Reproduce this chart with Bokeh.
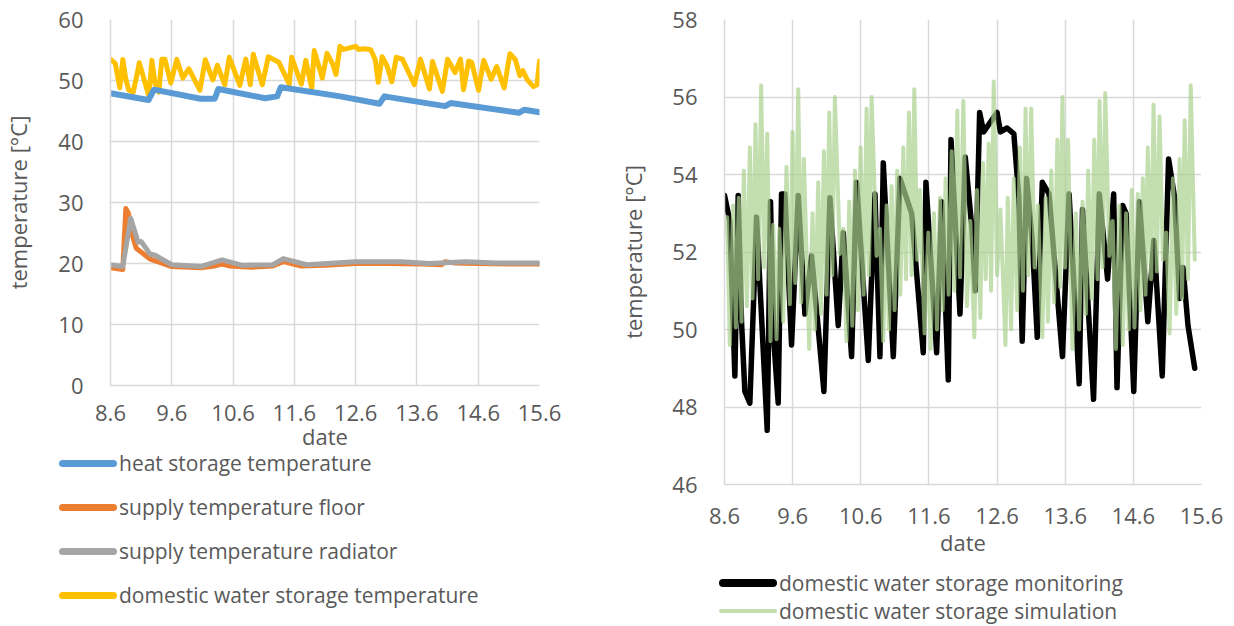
from bokeh.plotting import figure
from bokeh.layouts import row, column
from bokeh.models import Range1d, FixedTicker, Div
from bokeh.embed import file_html
from bokeh.resources import INLINE

# ---------------- data ----------------
tick_days = [0, 1, 2, 3, 4, 5, 6, 7]
date_labels = ["8.6", "9.6", "10.6", "11.6", "12.6", "13.6", "14.6", "15.6"]
left_y_ticks = [0, 10, 20, 30, 40, 50, 60]
right_y_ticks = [46, 48, 50, 52, 54, 56, 58]

heat_day = [0, 0.62, 0.71, 1.47, 1.70, 1.76, 2.52, 2.72, 2.78, 3.75, 4.39, 4.47,
            5.46, 5.55, 6.66, 6.75, 7.0]
heat_temp = [47.9, 46.8, 48.5, 47.0, 47.0, 48.6, 47.1, 47.4, 48.9, 47.4, 46.2, 47.4,
             45.8, 46.3, 44.7, 45.2, 44.8]

floor_day = [0, 0.2, 0.25, 0.29, 0.36, 0.42, 0.65, 1.0, 1.47, 1.70, 1.82, 1.95, 2.3,
             2.65, 2.82, 3.1, 3.5, 4.0, 4.5, 5.1, 5.4, 5.46, 5.6, 6.0, 6.5, 7.0]
floor_temp = [19.3, 19.0, 29.0, 28.3, 24.5, 22.5, 20.7, 19.5, 19.3, 19.6, 19.9, 19.6, 19.4,
              19.6, 20.3, 19.6, 19.7, 20.0, 20.0, 19.9, 19.8, 20.3, 20.1, 20.0, 19.9, 19.9]

rad_day = [0, 0.2, 0.33, 0.45, 0.5, 0.65, 0.72, 1.0, 1.47, 1.82, 2.15, 2.65, 2.82, 3.2,
           4.0, 4.75, 5.2, 5.8, 6.3, 7.0]
rad_temp = [19.8, 19.5, 27.4, 23.5, 23.6, 21.5, 21.4, 19.8, 19.5, 20.6, 19.7, 19.8, 20.8, 19.8,
            20.3, 20.3, 20.0, 20.3, 20.1, 20.1]

mon_day = [0.000, 0.078, 0.152, 0.201, 0.250, 0.299, 0.372, 0.445, 0.470, 0.627,
           0.675, 0.724, 0.788, 0.837, 0.886, 0.984, 1.082, 1.180, 1.278, 1.351,
           1.459, 1.547, 1.669, 1.743, 1.865, 1.938, 2.110, 2.208, 2.281, 2.330,
           2.379, 2.477, 2.575, 2.746, 2.917, 2.956, 3.113, 3.187, 3.284, 3.324,
           3.456, 3.533, 3.631, 3.680, 3.744, 3.803, 3.902, 4.000, 4.049, 4.147,
           4.246, 4.320, 4.369, 4.433, 4.516, 4.590, 4.664, 4.762, 4.959, 5.057,
           5.205, 5.254, 5.416, 5.500, 5.622, 5.711, 5.760, 5.844, 5.893, 6.006,
           6.089, 6.212, 6.301, 6.424, 6.517, 6.606, 6.679, 6.729, 6.802, 6.901]
mon_temp = [53.46, 52.8, 48.8, 53.46, 50.2, 48.4, 48.1, 51.6, 52.9, 47.4,
            53.3, 49.7, 48.1, 53.5, 53.5, 49.6, 53.46, 50.4, 51.9, 50.5,
            48.4, 53.4, 50.1, 52.5, 49.3, 53.8, 49.2, 53.5, 49.3, 54.3,
            52.6, 49.3, 53.9, 53.0, 49.4, 53.8, 49.4, 53.3, 48.7, 54.9,
            50.4, 54.45, 52.6, 51.0, 55.6, 55.1, 55.35, 55.6, 55.1, 55.2,
            55.05, 53.4, 49.7, 53.9, 52.3, 49.8, 53.8, 53.5, 49.3, 53.5,
            48.6, 53.1, 48.2, 53.5, 51.3, 53.5, 48.5, 53.2, 53.0, 48.4,
            53.3, 50.2, 52.3, 48.8, 54.4, 53.4, 50.8, 51.6, 50.1, 49.0]
# last readings shown only in the left panel
dhw_tail_day = [6.96, 7.0]
dhw_tail_temp = [49.3, 53.2]

sim_day = [0.000, 0.039, 0.078, 0.127, 0.166, 0.210, 0.250, 0.284, 0.328, 0.372,
           0.411, 0.455, 0.494, 0.538, 0.582, 0.627, 0.675, 0.715, 0.764, 0.803,
           0.861, 0.910, 0.959, 0.999, 1.038, 1.082, 1.126, 1.165, 1.243, 1.292,
           1.326, 1.375, 1.415, 1.459, 1.498, 1.537, 1.581, 1.620, 1.694, 1.743,
           1.791, 1.831, 1.875, 1.914, 1.958, 1.997, 2.041, 2.085, 2.119, 2.159,
           2.232, 2.281, 2.330, 2.379, 2.413, 2.452, 2.496, 2.535, 2.580, 2.624,
           2.663, 2.707, 2.746, 2.785, 2.829, 2.868, 2.937, 2.991, 3.025, 3.074,
           3.118, 3.162, 3.201, 3.245, 3.289, 3.334, 3.373, 3.416, 3.456, 3.505,
           3.558, 3.607, 3.666, 3.705, 3.754, 3.794, 3.833, 3.877, 3.912, 3.951,
           4.000, 4.049, 4.123, 4.157, 4.206, 4.246, 4.295, 4.334, 4.379, 4.418,
           4.457, 4.501, 4.551, 4.600, 4.664, 4.713, 4.747, 4.796, 4.836, 4.885,
           4.924, 4.959, 4.998, 5.042, 5.106, 5.155, 5.205, 5.254, 5.303, 5.337,
           5.386, 5.426, 5.475, 5.504, 5.549, 5.588, 5.647, 5.696, 5.745, 5.794,
           5.844, 5.893, 5.932, 5.976, 6.016, 6.065, 6.104, 6.139, 6.178, 6.212,
           6.262, 6.296, 6.345, 6.384, 6.434, 6.483, 6.532, 6.581, 6.630, 6.679,
           6.714, 6.753, 6.802, 6.842, 6.901]
sim_temp = [52.5, 52.9, 49.6, 53.2, 50.05, 53.4, 50.2, 54.1, 50.6, 54.7,
            50.8, 55.3, 51.3, 56.3, 51.6, 55.05, 49.7, 52.7, 49.75, 52.6,
            50.2, 54.2, 50.65, 55.1, 51.2, 56.2, 50.7, 54.4, 49.5, 53.0,
            50.0, 53.8, 50.4, 54.6, 50.9, 55.6, 51.4, 56.0, 51.95, 52.6,
            49.7, 53.3, 50.1, 54.1, 50.5, 54.7, 50.9, 55.7, 51.4, 56.0,
            51.9, 52.6, 49.7, 53.2, 50.0, 53.7, 50.5, 54.1, 50.9, 54.7,
            51.3, 55.6, 51.4, 56.2, 51.8, 53.6, 49.9, 52.5, 49.5, 53.0,
            50.0, 53.4, 50.5, 53.9, 50.9, 54.6, 51.0, 55.65, 51.35, 55.9,
            50.6, 52.8, 49.8, 53.6, 50.3, 54.3, 51.3, 54.8, 51.0, 56.4,
            51.4, 53.1, 49.6, 53.4, 50.0, 53.9, 50.5, 54.7, 51.0, 55.7,
            51.4, 55.7, 51.6, 53.2, 49.8, 53.4, 50.2, 54.1, 50.7, 54.9,
            51.1, 56.0, 51.6, 54.9, 49.5, 53.0, 50.0, 53.3, 50.4, 54.1,
            50.8, 54.9, 51.3, 55.9, 51.6, 56.1, 51.9, 52.8, 49.5, 53.2,
            49.6, 53.0, 50.0, 53.6, 50.05, 53.5, 50.5, 53.9, 50.9, 54.7,
            51.3, 55.8, 51.5, 55.5, 51.8, 52.5, 49.9, 53.9, 50.4, 54.4,
            50.8, 55.4, 51.3, 56.3, 51.8]

left_series = ["heat storage temperature", "supply temperature floor",
               "supply temperature radiator", "domestic water storage temperature"]
right_series = ["domestic water storage monitoring", "domestic water storage simulation"]

# ---------------- style ----------------
FONT = "Open Sans"
TXT = "#595959"
GRID = "#d9d9d9"
FS = "22px"
LEG_FS = "21px"

HEAT_C, FLOOR_C, RAD_C, DHW_C = "#5b9bd5", "#ed7d31", "#a5a5a5", "#ffc000"
MON_C, SIM_C = "#000000", "#a9d18e"
kw = dict(line_join="round", line_cap="round")


def style(p, yticks):
    p.outline_line_color = None
    p.background_fill_color = "white"
    p.border_fill_color = "white"
    for ax in (p.xaxis[0], p.yaxis[0]):
        ax.axis_line_color = GRID
        ax.axis_line_width = 1.5
        ax.major_tick_line_color = None
        ax.minor_tick_line_color = None
        ax.major_label_text_font = FONT
        ax.major_label_text_font_size = FS
        ax.major_label_text_color = TXT
        ax.axis_label_text_font = FONT
        ax.axis_label_text_font_size = FS
        ax.axis_label_text_color = TXT
        ax.axis_label_text_font_style = "normal"
    p.xaxis.ticker = FixedTicker(ticks=tick_days)
    p.xaxis.major_label_overrides = {d: l for d, l in zip(tick_days, date_labels)}
    p.yaxis.ticker = FixedTicker(ticks=yticks)
    p.xgrid.ticker = FixedTicker(ticks=tick_days)
    p.ygrid.ticker = FixedTicker(ticks=yticks)
    for g in (p.xgrid[0], p.ygrid[0]):
        g.grid_line_color = GRID
        g.grid_line_width = 1.5
    p.xaxis.axis_label = "date"
    p.yaxis.axis_label = "temperature [°C]"


def legend_div(width, height, entries, left, top0, step):
    rows_html = []
    for i, (label, color, thick, alpha) in enumerate(entries):
        rows_html.append(
            f'<div style="position:absolute;left:{left}px;top:{top0 + i * step}px;'
            f'height:28px;display:flex;align-items:center;white-space:nowrap;">'
            f'<span style="display:inline-block;width:58px;height:{thick}px;'
            f'border-radius:{thick / 2}px;background:{color};opacity:{alpha};'
            f'margin-right:2px;"></span><span>{label}</span></div>')
    html = (f'<div style="position:relative;width:{width}px;height:{height}px;'
            f'font-family:\'{FONT}\';font-size:{LEG_FS};color:{TXT};line-height:28px;">'
            + "".join(rows_html) + '</div>')
    return Div(text=html, width=width, height=height, margin=0,
               styles={"overflow": "visible"})


# ---------------- left panel ----------------
p1 = figure(width=600, height=453, frame_width=429, frame_height=366,
            min_border_left=110, min_border_right=61, min_border_top=19,
            min_border_bottom=68, x_range=Range1d(0, 7), y_range=Range1d(0, 60),
            output_backend="svg", toolbar_location=None)
style(p1, left_y_ticks)
p1.xaxis.major_label_standoff = 13
p1.xaxis.axis_label_standoff = -3
p1.yaxis.major_label_standoff = 21
p1.yaxis.axis_label_standoff = 22

p1.line(mon_day + dhw_tail_day, mon_temp + dhw_tail_temp, line_color=DHW_C, line_width=5, **kw)
p1.line(heat_day, heat_temp, line_color=HEAT_C, line_width=6, **kw)
p1.line(floor_day, floor_temp, line_color=FLOOR_C, line_width=5, **kw)
p1.line(rad_day, rad_temp, line_color=RAD_C, line_width=5, **kw)

leg1 = legend_div(600, 173, [
    (left_series[0], HEAT_C, 7, 1.0),
    (left_series[1], FLOOR_C, 7, 1.0),
    (left_series[2], RAD_C, 7, 1.0),
    (left_series[3], DHW_C, 7, 1.0),
], 59, -4, 44)

# ---------------- right panel ----------------
p2 = figure(width=634, height=560, frame_width=477, frame_height=465,
            min_border_left=124, min_border_right=33, min_border_top=19,
            min_border_bottom=76, x_range=Range1d(0, 7), y_range=Range1d(46, 58),
            output_backend="svg", toolbar_location=None)
style(p2, right_y_ticks)
p2.xaxis.major_label_standoff = 17
p2.xaxis.axis_label_standoff = 0
p2.yaxis.major_label_standoff = 21
p2.yaxis.axis_label_standoff = 21

p2.line(mon_day, mon_temp, line_color=MON_C, line_width=5.5, **kw)
p2.line(sim_day, sim_temp, line_color=SIM_C, line_alpha=0.7, line_width=4, **kw)

leg2 = legend_div(634, 66, [
    (right_series[0], MON_C, 8, 1.0),
    (right_series[1], SIM_C, 4, 0.7),
], 119, 9, 28)

layout = row(column(p1, leg1), column(p2, leg2))
open("out.html", "w").write(file_html(layout, INLINE))
